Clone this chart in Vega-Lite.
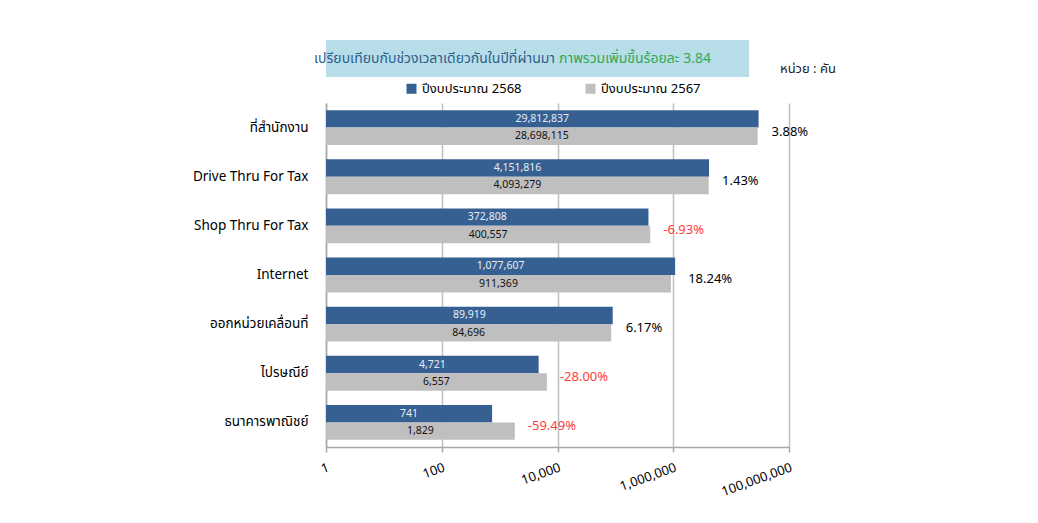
{
  "$schema": "https://vega.github.io/schema/vega-lite/v6.json",
  "background": "white",
  "padding": {"left": 192, "top": 40, "right": 5, "bottom": 5},
  "spacing": 5,
  "resolve": {"legend": {"color": "independent"}},
  "config": {
    "font": "Tahoma, 'Noto Sans Thai', 'Noto Sans', sans-serif",
    "view": {"stroke": null}
  },
  "vconcat": [
    {
      "width": 472,
      "height": 37,
      "data": {"values": [{"t": "เปรียบเทียบกับช่วงเวลาเดียวกันในปีที่ผ่านมา", "g": "ภาพรวมเพิ่มขึ้นร้อยละ 3.84", "u": "หน่วย : คัน"}]},
      "layer": [
        {"mark": {"type": "rect", "color": "#B7DEE8", "xOffset": -49, "x2Offset": -49}, "encoding": {}},
        {"mark": {"type": "text", "align": "right", "dx": -7, "fontSize": 14, "color": "#2F5C8E"}, "encoding": {"text": {"field": "t"}}},
        {"mark": {"type": "text", "align": "left", "dx": -3, "fontSize": 14, "color": "#35A853"}, "encoding": {"text": {"field": "g"}}},
        {"mark": {"type": "text", "align": "left", "dx": 218, "dy": 10, "fontSize": 13, "color": "#222"}, "encoding": {"text": {"field": "u"}}}
      ]
    },
    {
      "width": 463,
      "height": 344,
      "data": {"values": [
        {"cat": "ที่สำนักงาน", "year": "2568", "value": 29812837, "pct": "3.88%"},
        {"cat": "ที่สำนักงาน", "year": "2567", "value": 28698115, "pct": "3.88%"},
        {"cat": "Drive Thru For Tax", "year": "2568", "value": 4151816, "pct": "1.43%"},
        {"cat": "Drive Thru For Tax", "year": "2567", "value": 4093279, "pct": "1.43%"},
        {"cat": "Shop Thru For Tax", "year": "2568", "value": 372808, "pct": "-6.93%"},
        {"cat": "Shop Thru For Tax", "year": "2567", "value": 400557, "pct": "-6.93%"},
        {"cat": "Internet", "year": "2568", "value": 1077607, "pct": "18.24%"},
        {"cat": "Internet", "year": "2567", "value": 911369, "pct": "18.24%"},
        {"cat": "ออกหน่วยเคลื่อนที่", "year": "2568", "value": 89919, "pct": "6.17%"},
        {"cat": "ออกหน่วยเคลื่อนที่", "year": "2567", "value": 84696, "pct": "6.17%"},
        {"cat": "ไปรษณีย์", "year": "2568", "value": 4721, "pct": "-28.00%"},
        {"cat": "ไปรษณีย์", "year": "2567", "value": 6557, "pct": "-28.00%"},
        {"cat": "ธนาคารพาณิชย์", "year": "2568", "value": 741, "pct": "-59.49%"},
        {"cat": "ธนาคารพาณิชย์", "year": "2567", "value": 1829, "pct": "-59.49%"}
      ]},
      "encoding": {
        "y": {
          "field": "cat", "type": "nominal", "sort": null,
          "scale": {"paddingInner": 0.29, "paddingOuter": 0.145},
          "axis": {"title": null, "ticks": false, "labelFontSize": 13.5, "labelColor": "#000", "labelPadding": 18, "domainColor": "#A6A6A6", "domainWidth": 1.5}
        }
      },
      "layer": [
        {
          "mark": {"type": "bar"},
          "encoding": {
            "x": {
              "field": "value", "type": "quantitative", "stack": null,
              "scale": {"type": "log", "domain": [1, 100000000], "nice": false},
              "axis": {"title": null, "values": [1, 100, 10000, 1000000, 100000000], "format": ",d", "labelAngle": -20, "labelAlign": "right", "labelBaseline": "top", "labelFontSize": 13, "labelColor": "#000", "labelPadding": 9, "grid": true, "gridColor": "#BFBFBF", "gridWidth": 1.5, "domainColor": "#A6A6A6", "domainWidth": 1.5, "tickColor": "#A6A6A6", "tickSize": 5, "tickWidth": 1.5}
            },
            "yOffset": {"field": "year", "type": "nominal", "sort": ["2568", "2567"], "scale": {"paddingInner": 0, "paddingOuter": 0}},
            "color": {
              "field": "year", "type": "nominal",
              "scale": {"domain": ["2568", "2567"], "range": ["#376092", "#BFBFBF"]},
              "legend": {"title": null, "orient": "none", "legendX": 79, "legendY": -21, "direction": "horizontal", "columnPadding": 62, "padding": 0, "symbolType": "square", "symbolSize": 100, "symbolStrokeWidth": 0, "labelFontSize": 13, "labelColor": "#000", "labelOffset": 4, "labelExpr": "'ปีงบประมาณ ' + datum.label"}
            }
          }
        },
        {
          "mark": {"type": "text", "fontSize": 10.5, "baseline": "middle"},
          "encoding": {
            "x": {"field": "value", "type": "quantitative", "scale": {"type": "log", "domain": [1, 10000000000000000], "nice": false}, "axis": null},
            "yOffset": {"field": "year", "type": "nominal", "sort": ["2568", "2567"], "scale": {"paddingInner": 0, "paddingOuter": 0}},
            "text": {"field": "value", "type": "quantitative", "format": ","},
            "color": {"condition": {"test": "datum.year === '2568'", "value": "#E8EEF6"}, "value": "#111111"}
          }
        },
        {
          "transform": [{"aggregate": [{"op": "max", "field": "value", "as": "maxv"}], "groupby": ["cat", "pct"]}],
          "mark": {"type": "text", "align": "left", "baseline": "middle", "dx": 13, "dy": 4, "fontSize": 13},
          "encoding": {
            "x": {"field": "maxv", "type": "quantitative", "scale": {"type": "log", "domain": [1, 100000000], "nice": false}, "axis": null},
            "text": {"field": "pct"},
            "color": {"condition": {"test": "indexof(datum.pct, '-') === 0", "value": "#FF3B3B"}, "value": "#000000"}
          }
        }
      ],
      "resolve": {"scale": {"x": "independent"}}
    }
  ]
}
